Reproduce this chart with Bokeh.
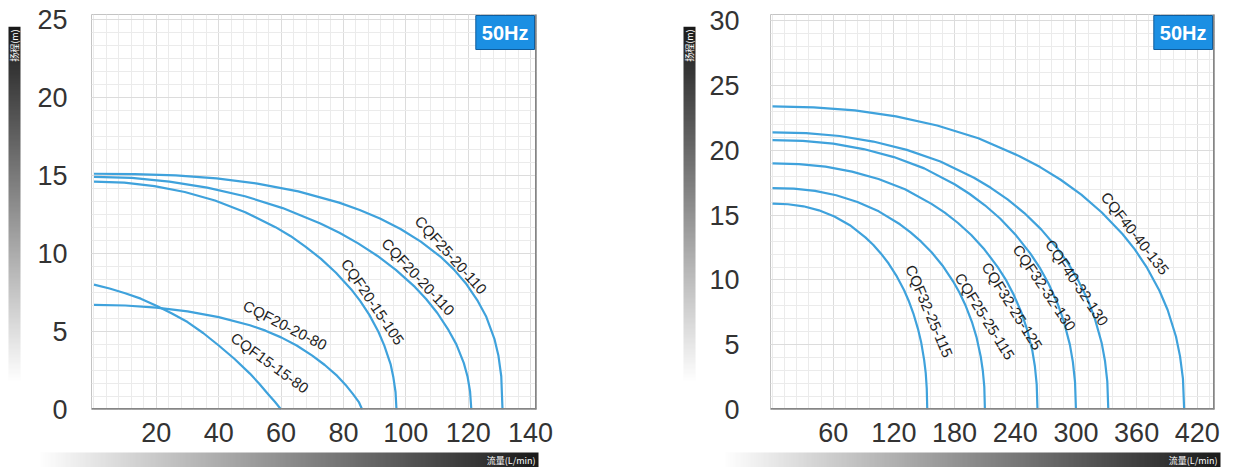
import numpy as np
from bokeh.plotting import figure
from bokeh.models import Range1d, FixedTicker, Label, Span, Spacer, ColumnDataSource
from bokeh.layouts import row, column
from bokeh.embed import file_html
from bokeh.resources import INLINE
from bokeh.core.properties import value

# ---------------- left chart data (flow L/min, head m) ----------------
L_names = ["CQF15-15-80", "CQF20-20-80", "CQF20-15-105", "CQF20-20-110", "CQF25-20-110"]
L_q = [
    [0, 5, 10, 15, 20, 25, 30, 35, 40, 45, 50, 53, 56, 58, 60],
    [0, 10, 20, 30, 40, 50, 55, 60, 65, 70, 74, 78, 81, 83, 85, 86],
    [0, 9.7, 19.4, 29.1, 38.8, 48.5, 58.2, 63.1, 67.9, 72.8, 77.6, 82.5, 85.4, 88.3, 91.2, 93.1, 95.1, 96.0, 96.7, 97],
    [0, 12.1, 24.2, 36.3, 48.4, 60.5, 72.6, 78.7, 84.7, 90.8, 96.8, 102.9, 106.5, 110.1, 113.7, 116.2, 118.6, 119.8, 120.6, 121],
    [0, 13.1, 26.2, 39.3, 52.4, 65.5, 78.6, 85.2, 91.7, 98.3, 104.8, 111.4, 115.3, 119.2, 123.1, 125.8, 128.4, 129.7, 130.6, 131],
]
L_h = [
    [8.0, 7.75, 7.45, 7.1, 6.65, 6.15, 5.6, 4.9, 4.1, 3.25, 2.3, 1.65, 0.95, 0.5, 0],
    [6.7, 6.66, 6.52, 6.28, 5.92, 5.40, 5.05, 4.62, 4.10, 3.45, 2.85, 2.15, 1.5, 1.0, 0.45, 0],
    [14.6, 14.53, 14.31, 13.93, 13.39, 12.64, 11.68, 11.10, 10.42, 9.65, 8.76, 7.69, 6.94, 6.06, 4.98, 4.09, 2.91, 2.06, 1.12, 0],
    [14.9, 14.83, 14.60, 14.21, 13.66, 12.90, 11.92, 11.32, 10.64, 9.85, 8.94, 7.85, 7.08, 6.18, 5.08, 4.17, 2.97, 2.10, 1.15, 0],
    [15.1, 15.08, 14.99, 14.80, 14.47, 13.97, 13.25, 12.78, 12.23, 11.56, 10.75, 9.74, 8.99, 8.09, 6.94, 5.94, 4.53, 3.44, 2.13, 0],
]
L_lab_q = [56.4, 61.3, 89.4, 104, 114.5]
L_lab_h = [3.0, 5.4, 6.9, 8.5, 9.9]
L_lab_ang = [-36, -27, -56, -47, -48]
L_xticks = [20, 40, 60, 80, 100, 120, 140]
L_yticks = [0, 5, 10, 15, 20, 25]

# ---------------- right chart data ----------------
R_names = ["CQF32-25-115", "CQF25-25-115", "CQF32-25-125", "CQF32-32-130", "CQF40-32-130", "CQF40-40-135"]
R_q = [
    [0, 15.3, 30.6, 45.9, 61.2, 76.5, 91.8, 99.5, 107.1, 114.8, 122.4, 130.1, 134.6, 139.2, 143.8, 146.9, 149.9, 151.5, 152.5, 153],
    [0, 21, 42, 63, 84, 105, 126, 136.5, 147, 157.5, 168, 178.5, 184.8, 191.1, 197.4, 201.6, 205.8, 207.9, 209.4, 210],
    [0, 26.2, 52.4, 78.6, 104.8, 131, 157.2, 170.3, 183.4, 196.5, 209.6, 222.7, 230.6, 238.4, 246.3, 251.5, 256.8, 259.4, 261.2, 262],
    [0, 30, 60, 90, 120, 150, 180, 195, 210, 225, 240, 255, 264, 273, 282, 288, 294, 297, 299.1, 300],
    [0, 33.2, 66.4, 99.6, 132.8, 166, 199.2, 215.8, 232.4, 249, 265.6, 282.2, 292.2, 302.1, 312.1, 318.7, 325.4, 328.7, 331, 332],
    [0, 40.7, 81.4, 122.1, 162.8, 203.5, 244.2, 264.6, 284.9, 305.3, 325.6, 346, 358.2, 370.4, 382.6, 390.7, 398.9, 402.9, 405.8, 407],
]
R_h = [
    [15.9, 15.85, 15.69, 15.38, 14.90, 14.23, 13.29, 12.72, 12.05, 11.27, 10.34, 9.21, 8.40, 7.43, 6.23, 5.22, 3.83, 2.80, 1.62, 0],
    [17.1, 17.05, 16.88, 16.54, 16.02, 15.30, 14.30, 13.68, 12.96, 12.12, 11.12, 9.90, 9.03, 7.99, 6.70, 5.61, 4.12, 3.01, 1.74, 0],
    [19.0, 18.94, 18.75, 18.37, 17.80, 17.01, 15.88, 15.20, 14.40, 13.47, 12.35, 11.00, 10.03, 8.87, 7.45, 6.23, 4.58, 3.34, 1.94, 0],
    [20.8, 20.74, 20.53, 20.11, 19.49, 18.62, 17.39, 16.64, 15.77, 14.75, 13.52, 12.04, 10.98, 9.71, 8.15, 6.82, 5.01, 3.66, 2.12, 0],
    [21.4, 21.34, 21.12, 20.69, 20.05, 19.15, 17.89, 17.12, 16.22, 15.17, 13.91, 12.39, 11.30, 9.99, 8.39, 7.02, 5.16, 3.77, 2.18, 0],
    [23.4, 23.33, 23.10, 22.63, 21.93, 20.94, 19.56, 18.72, 17.74, 16.59, 15.21, 13.55, 12.36, 10.93, 9.17, 7.68, 5.64, 4.12, 2.39, 0],
]
R_lab_q = [155, 210, 237, 269, 301, 358.5]
R_lab_h = [7.6, 7.2, 8.0, 9.4, 9.8, 13.6]
R_lab_ang = [-67, -58, -58, -56, -56, -52]
R_xticks = [60, 120, 180, 240, 300, 360, 420]
R_yticks = [0, 5, 10, 15, 20, 25, 30]

Y_LABEL = "扬程(m)"
X_LABEL = "流量(L/min)"
BADGE = "50Hz"

CURVE = "#3fa2dc"
FONT = "Liberation Sans"
TOP = 14
BOTTOM = 42
FRAME_H = 395


def main_fig(xr, yr, xticks, yticks, xminor, yminor, w, h, bl, br, ystand,
             qs, hs, names, lq, lh, lang):
    p = figure(width=w, height=h,
               x_range=Range1d(*xr), y_range=Range1d(*yr),
               output_backend="svg", toolbar_location=None,
               min_border_left=bl, min_border_right=br,
               min_border_top=TOP, min_border_bottom=BOTTOM,
               background_fill_color="white", border_fill_color="white",
               outline_line_color="#c4c4c4", outline_line_width=1)
    p.xaxis.ticker = FixedTicker(ticks=xticks, minor_ticks=xminor)
    p.yaxis.ticker = FixedTicker(ticks=yticks, minor_ticks=yminor)
    for ax in (p.xaxis[0], p.yaxis[0]):
        ax.axis_line_color = None
        ax.major_tick_line_color = None
        ax.minor_tick_line_color = None
        ax.major_tick_out = 0
        ax.major_tick_in = 0
        ax.major_label_text_font = FONT
        ax.major_label_text_font_size = "27px"
        ax.major_label_text_color = "#333333"
    p.yaxis.major_label_standoff = ystand
    p.xaxis.major_label_standoff = 9
    for g in (p.xgrid[0], p.ygrid[0]):
        g.grid_line_color = "#dcdcdc"
        g.minor_grid_line_color = "#ebebeb"
        g.grid_line_width = 1
        g.minor_grid_line_width = 1

    src = ColumnDataSource(dict(xs=qs, ys=hs, name=names))
    p.multi_line(xs="xs", ys="ys", source=src, line_color=CURVE, line_width=2.2,
                 line_join="round")

    lsrc = ColumnDataSource(dict(x=lq, y=lh, text=names, angle=lang))
    p.text(x="x", y="y", text="text", angle="angle", angle_units="deg", source=lsrc,
           text_align="center", text_baseline="middle",
           text_font=value(FONT), text_font_size="15px", text_color="#1e1e1e")

    p.add_layout(Span(location=xr[1], dimension="height", line_color="#858585", line_width=3))
    p.add_layout(Span(location=yr[0], dimension="width", line_color="#858585", line_width=3))

    p.add_layout(Label(x=xr[1], y=yr[1], x_offset=-2, y_offset=-1, text=BADGE,
                       text_align="right", text_baseline="top",
                       text_color="white", text_font_style="bold",
                       text_font=FONT, text_font_size="20px",
                       background_fill_color="#1b8fe3",
                       border_line_color="#0f5c9c", border_line_width=1,
                       padding=6))
    return p


def gradient(n, vertical):
    t = np.linspace(0.0, 1.0, n)  # 0 = light end
    g = (255 - (255 - 26) * t).astype(np.uint8)
    if vertical:
        img = np.empty((n, 1), dtype=np.uint32)
        v = img.view(dtype=np.uint8).reshape((n, 1, 4))
        v[:, 0, 0] = g
        v[:, 0, 1] = g
        v[:, 0, 2] = g
        v[:, 0, 3] = 255
    else:
        img = np.empty((1, n), dtype=np.uint32)
        v = img.view(dtype=np.uint8).reshape((1, n, 4))
        v[0, :, 0] = g
        v[0, :, 1] = g
        v[0, :, 2] = g
        v[0, :, 3] = 255
    return img


def bar_fig(w, h, bx, by, bw, bh, vertical, label, tx, ty):
    f = figure(width=w, height=h, x_range=Range1d(0, w), y_range=Range1d(0, h),
               min_border=0, toolbar_location=None, output_backend="svg",
               x_axis_location=None, y_axis_location=None,
               outline_line_color=None, background_fill_color="white",
               border_fill_color="white")
    f.grid.visible = False
    f.image_rgba(image=[gradient(300, vertical)], x=bx, y=by, dw=bw, dh=bh)
    if vertical:
        f.text(x=[tx], y=[ty], text=[label], angle=[np.pi / 2], text_align="right",
               text_baseline="middle", text_font=value("Noto Sans CJK SC"),
               text_font_size="9px", text_color="white")
    else:
        f.text(x=[tx], y=[ty], text=[label], text_align="right",
               text_baseline="middle", text_font=value("Noto Sans CJK SC"),
               text_font_size="9px", text_color="white")
    return f


H_MAIN = TOP + FRAME_H + BOTTOM
BAR_Y = H_MAIN - (TOP + 405)

# left block
pL = main_fig((-0.8, 141.9), (0, 25.3), L_xticks, L_yticks,
              list(np.arange(0, 144, 4)), list(np.arange(0, 25.3, 5 / 6)),
              67 + 445 + 20, H_MAIN, 67, 20, 20, L_q, L_h, L_names, L_lab_q, L_lab_h, L_lab_ang)
vL = bar_fig(18, H_MAIN, 2, BAR_Y, 12, 405, True, Y_LABEL, 8, H_MAIN - TOP - 3)
hL = bar_fig(550, 16, 32, 0, 500, 15, False, X_LABEL, 529, 7.5)

# right block
pR = main_fig((-2, 437), (0, 30.5), R_xticks, R_yticks,
              list(np.arange(0, 440, 12)), list(np.arange(0, 31, 1)),
              73 + 444 + 8, H_MAIN, 73, 8, 27, R_q, R_h, R_names, R_lab_q, R_lab_h, R_lab_ang)
vR = bar_fig(16, H_MAIN, 2, BAR_Y, 12, 405, True, Y_LABEL, 8, H_MAIN - TOP - 3)
hR = bar_fig(541, 16, 42, 0, 497, 15, False, X_LABEL, 536, 7.5)

left = column(row(vL, pL, spacing=0), hL, spacing=0)
right = column(row(vR, pR, spacing=0), hR, spacing=0)
layout = row(Spacer(width=6, height=10), left, Spacer(width=125, height=10), right, spacing=0)

open("out.html", "w").write(file_html(layout, INLINE))
